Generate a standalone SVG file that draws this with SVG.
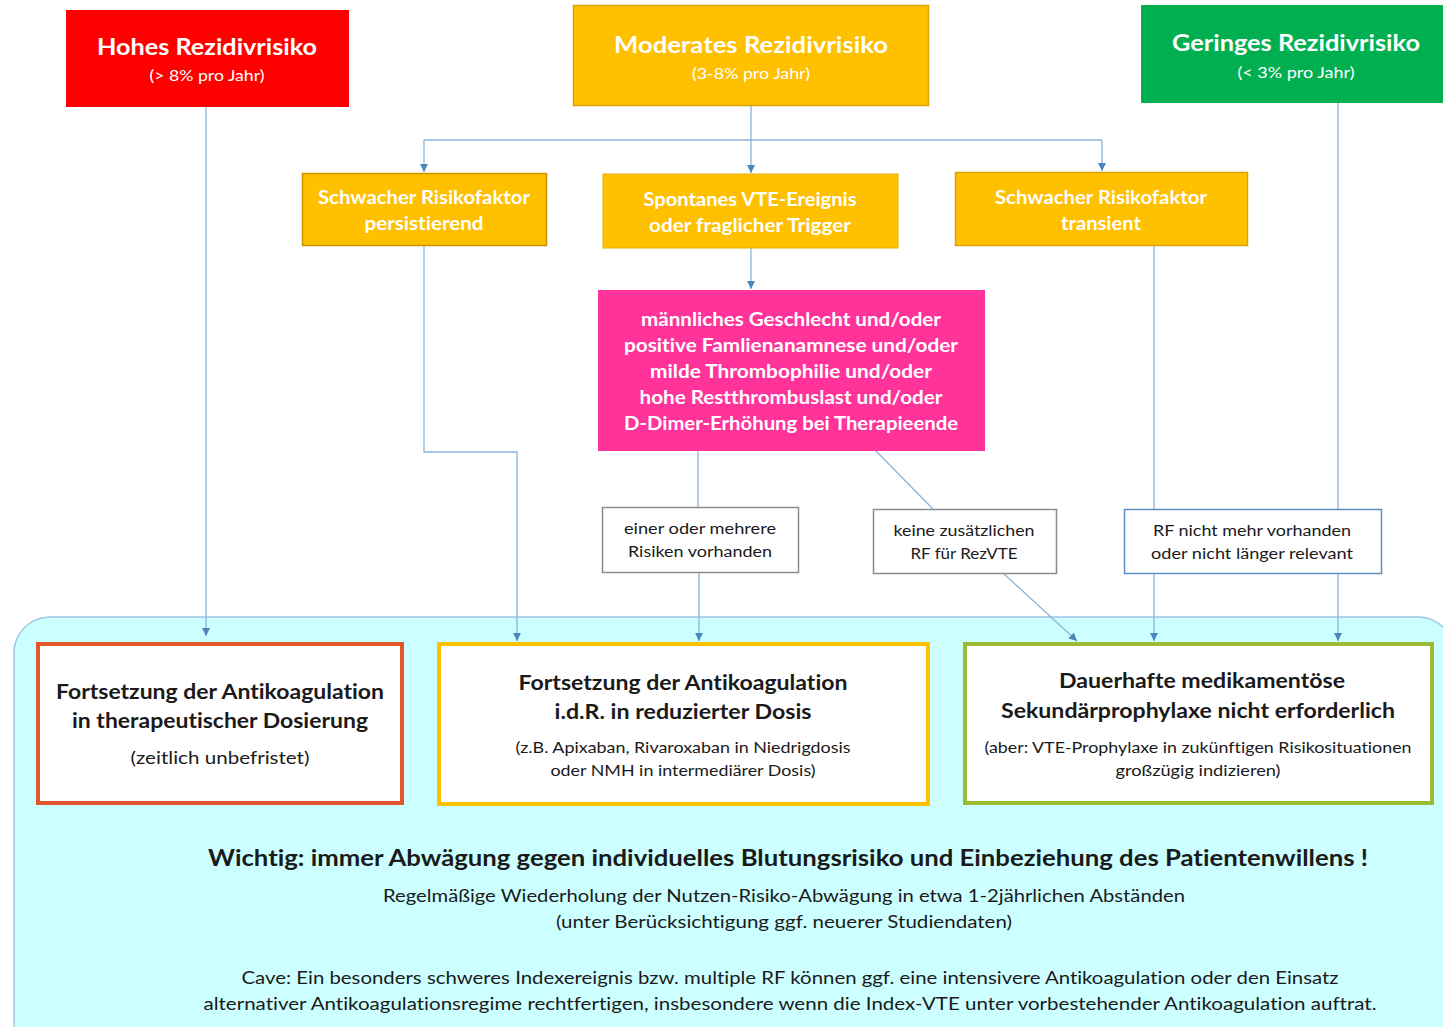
<svg xmlns="http://www.w3.org/2000/svg" width="1443" height="1027" viewBox="0 0 1443 1027">
<style>
text{font-family:Lato,"Open Sans","Liberation Sans",sans-serif;text-anchor:middle;font-variant-ligatures:none;font-feature-settings:"liga" 0}
.w{fill:#ffffff}
.k{fill:#1a1a1a}
.b{font-weight:bold}
.t1{font-size:23px}
.t2{font-size:15px}
.t3{font-size:18.5px}
.t4{font-size:15.5px}
.t5{font-size:21px}
.t6{font-size:16px}
.t7{font-size:18px}
.conn{fill:none;stroke:#8db4d8;stroke-width:1.3}
.lab{fill:#ffffff;stroke-width:1.5}
</style>
<defs>
<marker id="ah" viewBox="0 0 10 10" refX="10" refY="5" markerWidth="8" markerHeight="8" markerUnits="userSpaceOnUse" orient="auto">
<path d="M0,0 L10,5 L0,10 z" fill="#4a86b8"/>
</marker>
</defs>
<rect width="1443" height="1027" fill="#ffffff"/>

<g id="area">
<rect x="14" y="617" width="1440" height="450" rx="36" fill="#ccffff" stroke="#9dc8e6" stroke-width="1.5"/>
</g>

<g id="connectors">
<path class="conn" d="M206,107 V636" marker-end="url(#ah)"/>
<path class="conn" d="M751,106 V140"/>
<path class="conn" d="M424,140 H1102"/>
<path class="conn" d="M424,140 V172" marker-end="url(#ah)"/>
<path class="conn" d="M751,140 V173" marker-end="url(#ah)"/>
<path class="conn" d="M1102,140 V171" marker-end="url(#ah)"/>
<path class="conn" d="M751,248 V289" marker-end="url(#ah)"/>
<path class="conn" d="M424,245 V452 H517 V641" marker-end="url(#ah)"/>
<path class="conn" d="M698,451 V507"/>
<path class="conn" d="M699,572 V641" marker-end="url(#ah)"/>
<path class="conn" d="M876,451 L933,509"/>
<path class="conn" d="M1003,573 L1077,641" marker-end="url(#ah)"/>
<path class="conn" d="M1154,246 V509"/>
<path class="conn" d="M1154,573 V641" marker-end="url(#ah)"/>
<path class="conn" d="M1338,103 V641" marker-end="url(#ah)"/>
</g>

<g id="hohes">
<rect x="66" y="10" width="283" height="97" fill="#ff0000"/>
<text class="w b t1" x="207" y="55" textLength="220" lengthAdjust="spacingAndGlyphs">Hohes Rezidivrisiko</text>
<text class="w t2" x="207" y="81" textLength="115" lengthAdjust="spacingAndGlyphs">(&gt; 8% pro Jahr)</text>
</g>

<g id="moderates">
<rect x="573.5" y="5.5" width="355" height="100" fill="#ffc000" stroke="#d9a300" stroke-width="1.5"/>
<text class="w b t1" x="751" y="53" textLength="274" lengthAdjust="spacingAndGlyphs">Moderates Rezidivrisiko</text>
<text class="w t2" x="751" y="79" textLength="118" lengthAdjust="spacingAndGlyphs">(3-8% pro Jahr)</text>
</g>

<g id="geringes">
<rect x="1141" y="5" width="305" height="98" fill="#00b050"/>
<text class="w b t1" x="1296" y="51" textLength="248" lengthAdjust="spacingAndGlyphs">Geringes Rezidivrisiko</text>
<text class="w t2" x="1296" y="78" textLength="117" lengthAdjust="spacingAndGlyphs">(&lt; 3% pro Jahr)</text>
</g>

<g id="persistierend">
<rect x="302.5" y="173.5" width="244" height="72" fill="#ffc000" stroke="#c89400" stroke-width="1.5"/>
<text class="w b t3" x="424" y="204" textLength="212" lengthAdjust="spacingAndGlyphs">Schwacher Risikofaktor</text>
<text class="w b t3" x="424" y="230" textLength="119" lengthAdjust="spacingAndGlyphs">persistierend</text>
</g>

<g id="spontan">
<rect x="603" y="174" width="295" height="74" fill="#ffc000" stroke="#e6b000" stroke-width="1"/>
<text class="w b t3" x="750" y="206" textLength="213" lengthAdjust="spacingAndGlyphs">Spontanes VTE-Ereignis</text>
<text class="w b t3" x="750" y="232" textLength="202" lengthAdjust="spacingAndGlyphs">oder fraglicher Trigger</text>
</g>

<g id="transient">
<rect x="955.5" y="172.5" width="292" height="73" fill="#ffc000" stroke="#d9a300" stroke-width="1.5"/>
<text class="w b t3" x="1101" y="204" textLength="212" lengthAdjust="spacingAndGlyphs">Schwacher Risikofaktor</text>
<text class="w b t3" x="1101" y="230" textLength="80" lengthAdjust="spacingAndGlyphs">transient</text>
</g>

<g id="faktoren">
<rect x="598" y="290" width="387" height="161" fill="#ff3399"/>
<text class="w b t3" x="791" y="326" textLength="300" lengthAdjust="spacingAndGlyphs">männliches Geschlecht und/oder</text>
<text class="w b t3" x="791" y="352" textLength="334" lengthAdjust="spacingAndGlyphs">positive Famlienanamnese und/oder</text>
<text class="w b t3" x="791" y="378" textLength="282" lengthAdjust="spacingAndGlyphs">milde Thrombophilie und/oder</text>
<text class="w b t3" x="791" y="404" textLength="303" lengthAdjust="spacingAndGlyphs">hohe Restthrombuslast und/oder</text>
<text class="w b t3" x="791" y="430" textLength="334" lengthAdjust="spacingAndGlyphs">D-Dimer-Erhöhung bei Therapieende</text>
</g>

<g id="label-risiken">
<rect class="lab" x="602.5" y="507.5" width="196" height="65" stroke="#8c8c8c"/>
<text class="k t4" x="700" y="534" textLength="152" lengthAdjust="spacingAndGlyphs">einer oder mehrere</text>
<text class="k t4" x="700" y="557" textLength="144" lengthAdjust="spacingAndGlyphs">Risiken vorhanden</text>
</g>

<g id="label-keine">
<rect class="lab" x="873.5" y="509.5" width="183" height="64" stroke="#8c8c8c"/>
<text class="k t4" x="964" y="536" textLength="141" lengthAdjust="spacingAndGlyphs">keine zusätzlichen</text>
<text class="k t4" x="964" y="559" textLength="107" lengthAdjust="spacingAndGlyphs">RF für RezVTE</text>
</g>

<g id="label-rf">
<rect class="lab" x="1124.5" y="509.5" width="257" height="64" stroke="#5b8fc0"/>
<text class="k t4" x="1252" y="536" textLength="198" lengthAdjust="spacingAndGlyphs">RF nicht mehr vorhanden</text>
<text class="k t4" x="1252" y="559" textLength="202" lengthAdjust="spacingAndGlyphs">oder nicht länger relevant</text>
</g>

<g id="therapeutisch">
<rect x="38" y="644" width="364" height="159" fill="#ffffff" stroke="#e2572c" stroke-width="4"/>
<text class="k b t5" x="220" y="699" textLength="328" lengthAdjust="spacingAndGlyphs">Fortsetzung der Antikoagulation</text>
<text class="k b t5" x="220" y="728" textLength="296" lengthAdjust="spacingAndGlyphs">in therapeutischer Dosierung</text>
<text class="k t7" x="220" y="764" textLength="179" lengthAdjust="spacingAndGlyphs">(zeitlich unbefristet)</text>
</g>

<g id="reduziert">
<rect x="439" y="644" width="489" height="160" fill="#ffffff" stroke="#ffc000" stroke-width="4"/>
<text class="k b t5" x="683" y="690" textLength="329" lengthAdjust="spacingAndGlyphs">Fortsetzung der Antikoagulation</text>
<text class="k b t5" x="683" y="719" textLength="257" lengthAdjust="spacingAndGlyphs">i.d.R. in reduzierter Dosis</text>
<text class="k t6" x="683" y="753" textLength="335" lengthAdjust="spacingAndGlyphs">(z.B. Apixaban, Rivaroxaban in Niedrigdosis</text>
<text class="k t6" x="683" y="776" textLength="265" lengthAdjust="spacingAndGlyphs">oder NMH in intermediärer Dosis)</text>
</g>

<g id="nicht-erforderlich">
<rect x="965" y="644" width="467" height="159" fill="#ffffff" stroke="#9bbb35" stroke-width="4"/>
<text class="k b t5" x="1202" y="688" textLength="286" lengthAdjust="spacingAndGlyphs">Dauerhafte medikamentöse</text>
<text class="k b t5" x="1198" y="718" textLength="394" lengthAdjust="spacingAndGlyphs">Sekundärprophylaxe nicht erforderlich</text>
<text class="k t6" x="1198" y="753" textLength="427" lengthAdjust="spacingAndGlyphs">(aber: VTE-Prophylaxe in zukünftigen Risikosituationen</text>
<text class="k t6" x="1198" y="776" textLength="165" lengthAdjust="spacingAndGlyphs">großzügig indizieren)</text>
</g>

<g id="hinweise">
<text class="k b" style="font-size:22px" x="788" y="866" textLength="1160" lengthAdjust="spacingAndGlyphs">Wichtig: immer Abwägung gegen individuelles Blutungsrisiko und Einbeziehung des Patientenwillens !</text>
<text class="k t7" x="784" y="902" textLength="802" lengthAdjust="spacingAndGlyphs">Regelmäßige Wiederholung der Nutzen-Risiko-Abwägung in etwa 1-2jährlichen Abständen</text>
<text class="k t7" x="784" y="928" textLength="456" lengthAdjust="spacingAndGlyphs">(unter Berücksichtigung ggf. neuerer Studiendaten)</text>
<text class="k t7" x="790" y="984" textLength="1097" lengthAdjust="spacingAndGlyphs">Cave: Ein besonders schweres Indexereignis bzw. multiple RF können ggf. eine intensivere Antikoagulation oder den Einsatz</text>
<text class="k t7" x="790" y="1010" textLength="1173" lengthAdjust="spacingAndGlyphs">alternativer Antikoagulationsregime rechtfertigen, insbesondere wenn die Index-VTE unter vorbestehender Antikoagulation auftrat.</text>
</g>
</svg>
